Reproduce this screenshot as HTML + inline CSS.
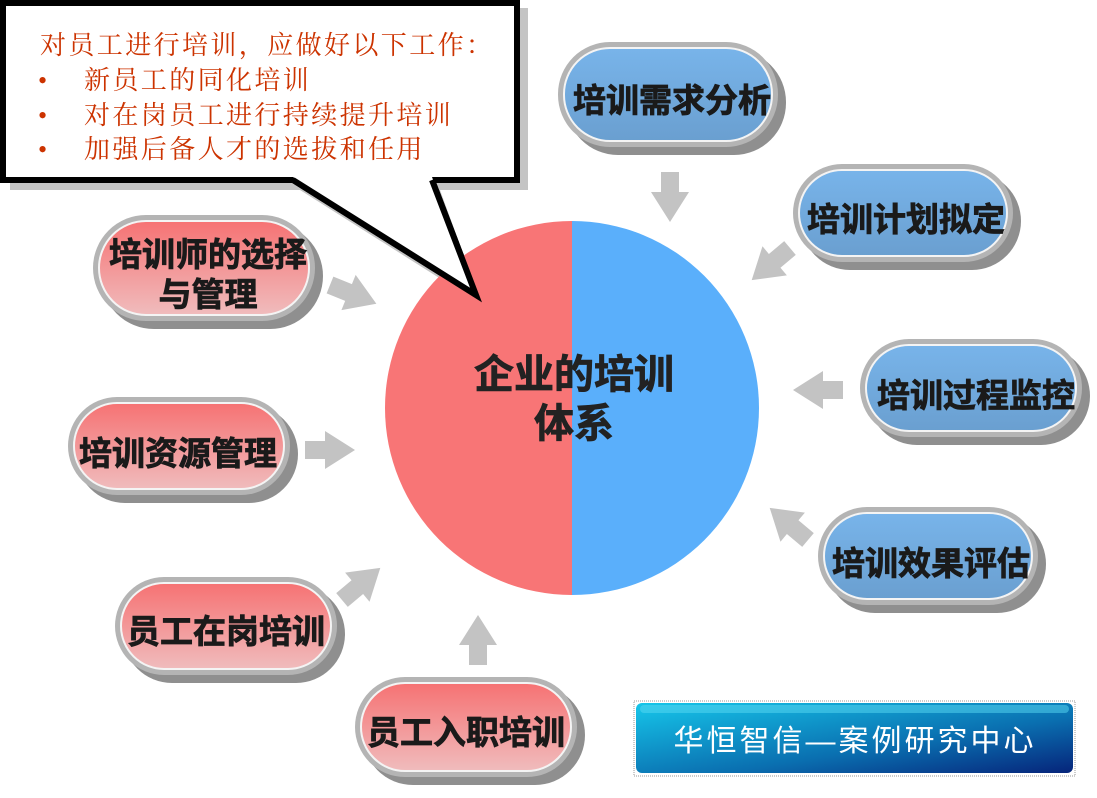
<!DOCTYPE html>
<html><head><meta charset="utf-8"><style>
html,body{margin:0;padding:0;background:#fff;}
svg{display:block;}
text{font-family:"Liberation Sans","Noto Sans CJK SC",sans-serif;}
.p{font-size:33px;font-weight:bold;fill:#1a1a1a;stroke:#1a1a1a;stroke-width:0.8;text-anchor:middle;}
.c{font-size:26px;fill:#cc3300;letter-spacing:2.4px;font-family:"Liberation Serif","Noto Serif CJK SC",serif;}
</style></head><body>
<svg width="1097" height="798" viewBox="0 0 1097 798" xmlns="http://www.w3.org/2000/svg">
<defs>
<linearGradient id="gb" x1="0" y1="0" x2="0" y2="1"><stop offset="0" stop-color="#78b4ea"/><stop offset="1" stop-color="#6a9fd0"/></linearGradient>
<linearGradient id="gr" x1="0" y1="0" x2="0" y2="1"><stop offset="0" stop-color="#f67273"/><stop offset="1" stop-color="#f0bcbd"/></linearGradient>
<linearGradient id="gl" x1="0" y1="0" x2="1" y2="1"><stop offset="0" stop-color="#16c6ea"/><stop offset="0.6" stop-color="#0a6fb0"/><stop offset="1" stop-color="#06247a"/></linearGradient>
<g id="arr"><polygon points="0,-9 20,-9 20,-19 50,0 20,19 20,9 0,9" fill="#c3c3c3"/></g>
</defs>

<polygon points="10,8 528,8 528,190 440,190 482,305 300,190 10,190" fill="#c4c4c4"/>
<polygon points="3,3 517,3 517,180 432,180 476,295 293,180 3,180" fill="#fff" stroke="#000" stroke-width="6" stroke-linejoin="miter"/>

<path d="M572,221 A187,187 0 0,0 572,595 Z" fill="#f87576"/>
<path d="M572,221 A187,187 0 0,1 572,595 Z" fill="#5aaffb"/>
<text x="574" y="388" font-size="40" font-weight="bold" text-anchor="middle" fill="#222" stroke="#222" stroke-width="0.8">企业的培训</text>
<text x="574" y="437" font-size="40" font-weight="bold" text-anchor="middle" fill="#222" stroke="#222" stroke-width="0.8">体系</text>

<polygon points="432,177 476,295 293,177" fill="#fff"/>
<polyline points="432,180 476,295 293,180" fill="none" stroke="#000" stroke-width="6"/>

<text x="40" y="54" class="c">对员工进行培训，应做好以下工作：</text>
<text x="38" y="89" class="c">•</text><text x="84" y="89" class="c">新员工的同化培训</text>
<text x="38" y="124" class="c">•</text><text x="84" y="124" class="c">对在岗员工进行持续提升培训</text>
<text x="38" y="158" class="c">•</text><text x="84" y="158" class="c">加强后备人才的选拔和任用</text>

<g>
<rect x="566" y="50" width="220" height="105" rx="52" fill="#8f8f8f"/>
<rect x="558" y="42" width="220" height="105" rx="52" fill="#b4b4b4"/>
<rect x="564" y="48" width="208" height="93" rx="46" fill="url(#gb)" stroke="#f4f4f4" stroke-width="2"/>
<text x="672" y="112" class="p">培训需求分析</text>
</g>
<g>
<rect x="801" y="172" width="220" height="98" rx="49" fill="#8f8f8f"/>
<rect x="793" y="164" width="220" height="98" rx="49" fill="#b4b4b4"/>
<rect x="799" y="170" width="208" height="86" rx="43" fill="url(#gb)" stroke="#f4f4f4" stroke-width="2"/>
<text x="906" y="231" class="p">培训计划拟定</text>
</g>
<g>
<rect x="868" y="347" width="222" height="98" rx="49" fill="#8f8f8f"/>
<rect x="860" y="339" width="222" height="98" rx="49" fill="#b4b4b4"/>
<rect x="866" y="345" width="210" height="86" rx="43" fill="url(#gb)" stroke="#f4f4f4" stroke-width="2"/>
<text x="976" y="407" class="p">培训过程监控</text>
</g>
<g>
<rect x="826" y="515" width="220" height="98" rx="49" fill="#8f8f8f"/>
<rect x="818" y="507" width="220" height="98" rx="49" fill="#b4b4b4"/>
<rect x="824" y="513" width="208" height="86" rx="43" fill="url(#gb)" stroke="#f4f4f4" stroke-width="2"/>
<text x="931" y="575" class="p">培训效果评估</text>
</g>
<g>
<rect x="101" y="223" width="222" height="106" rx="53" fill="#8f8f8f"/>
<rect x="93" y="215" width="222" height="106" rx="53" fill="#b4b4b4"/>
<rect x="99" y="221" width="210" height="94" rx="47" fill="url(#gr)" stroke="#f4f4f4" stroke-width="2"/>
<text x="208" y="266" class="p">培训师的选择</text>
<text x="208" y="306" class="p">与管理</text>
</g>
<g>
<rect x="76" y="405" width="222" height="98" rx="49" fill="#8f8f8f"/>
<rect x="68" y="397" width="222" height="98" rx="49" fill="#b4b4b4"/>
<rect x="74" y="403" width="210" height="86" rx="43" fill="url(#gr)" stroke="#f4f4f4" stroke-width="2"/>
<text x="178" y="465" class="p">培训资源管理</text>
</g>
<g>
<rect x="123" y="585" width="222" height="98" rx="49" fill="#8f8f8f"/>
<rect x="115" y="577" width="222" height="98" rx="49" fill="#b4b4b4"/>
<rect x="121" y="583" width="210" height="86" rx="43" fill="url(#gr)" stroke="#f4f4f4" stroke-width="2"/>
<text x="226" y="643" class="p">员工在岗培训</text>
</g>
<g>
<rect x="363" y="685" width="222" height="100" rx="50" fill="#8f8f8f"/>
<rect x="355" y="677" width="222" height="100" rx="50" fill="#b4b4b4"/>
<rect x="361" y="683" width="210" height="88" rx="44" fill="url(#gr)" stroke="#f4f4f4" stroke-width="2"/>
<text x="466" y="744" class="p">员工入职培训</text>
</g>

<use href="#arr" transform="translate(670,172) rotate(90)"/>
<use href="#arr" transform="translate(790,248) rotate(140)"/>
<use href="#arr" transform="translate(843,390) rotate(180)"/>
<use href="#arr" transform="translate(808,540) rotate(-140)"/>
<use href="#arr" transform="translate(478,665) rotate(-90)"/>
<use href="#arr" transform="translate(342,600) rotate(-40)"/>
<use href="#arr" transform="translate(305,450)"/>
<use href="#arr" transform="translate(330,285) rotate(22)"/>

<rect x="634" y="701" width="441" height="75" fill="none" stroke="#999" stroke-width="1" stroke-dasharray="1,1"/>
<rect x="636" y="703" width="437" height="70" rx="6" fill="url(#gl)"/>
<rect x="640" y="705" width="429" height="8" rx="4" fill="#5ad8f2" opacity="0.5"/>
<text x="855" y="751" font-size="30" letter-spacing="3" text-anchor="middle" fill="#fff" font-family="'Noto Serif CJK SC',serif">华恒智信—案例研究中心</text>
</svg>
</body></html>
